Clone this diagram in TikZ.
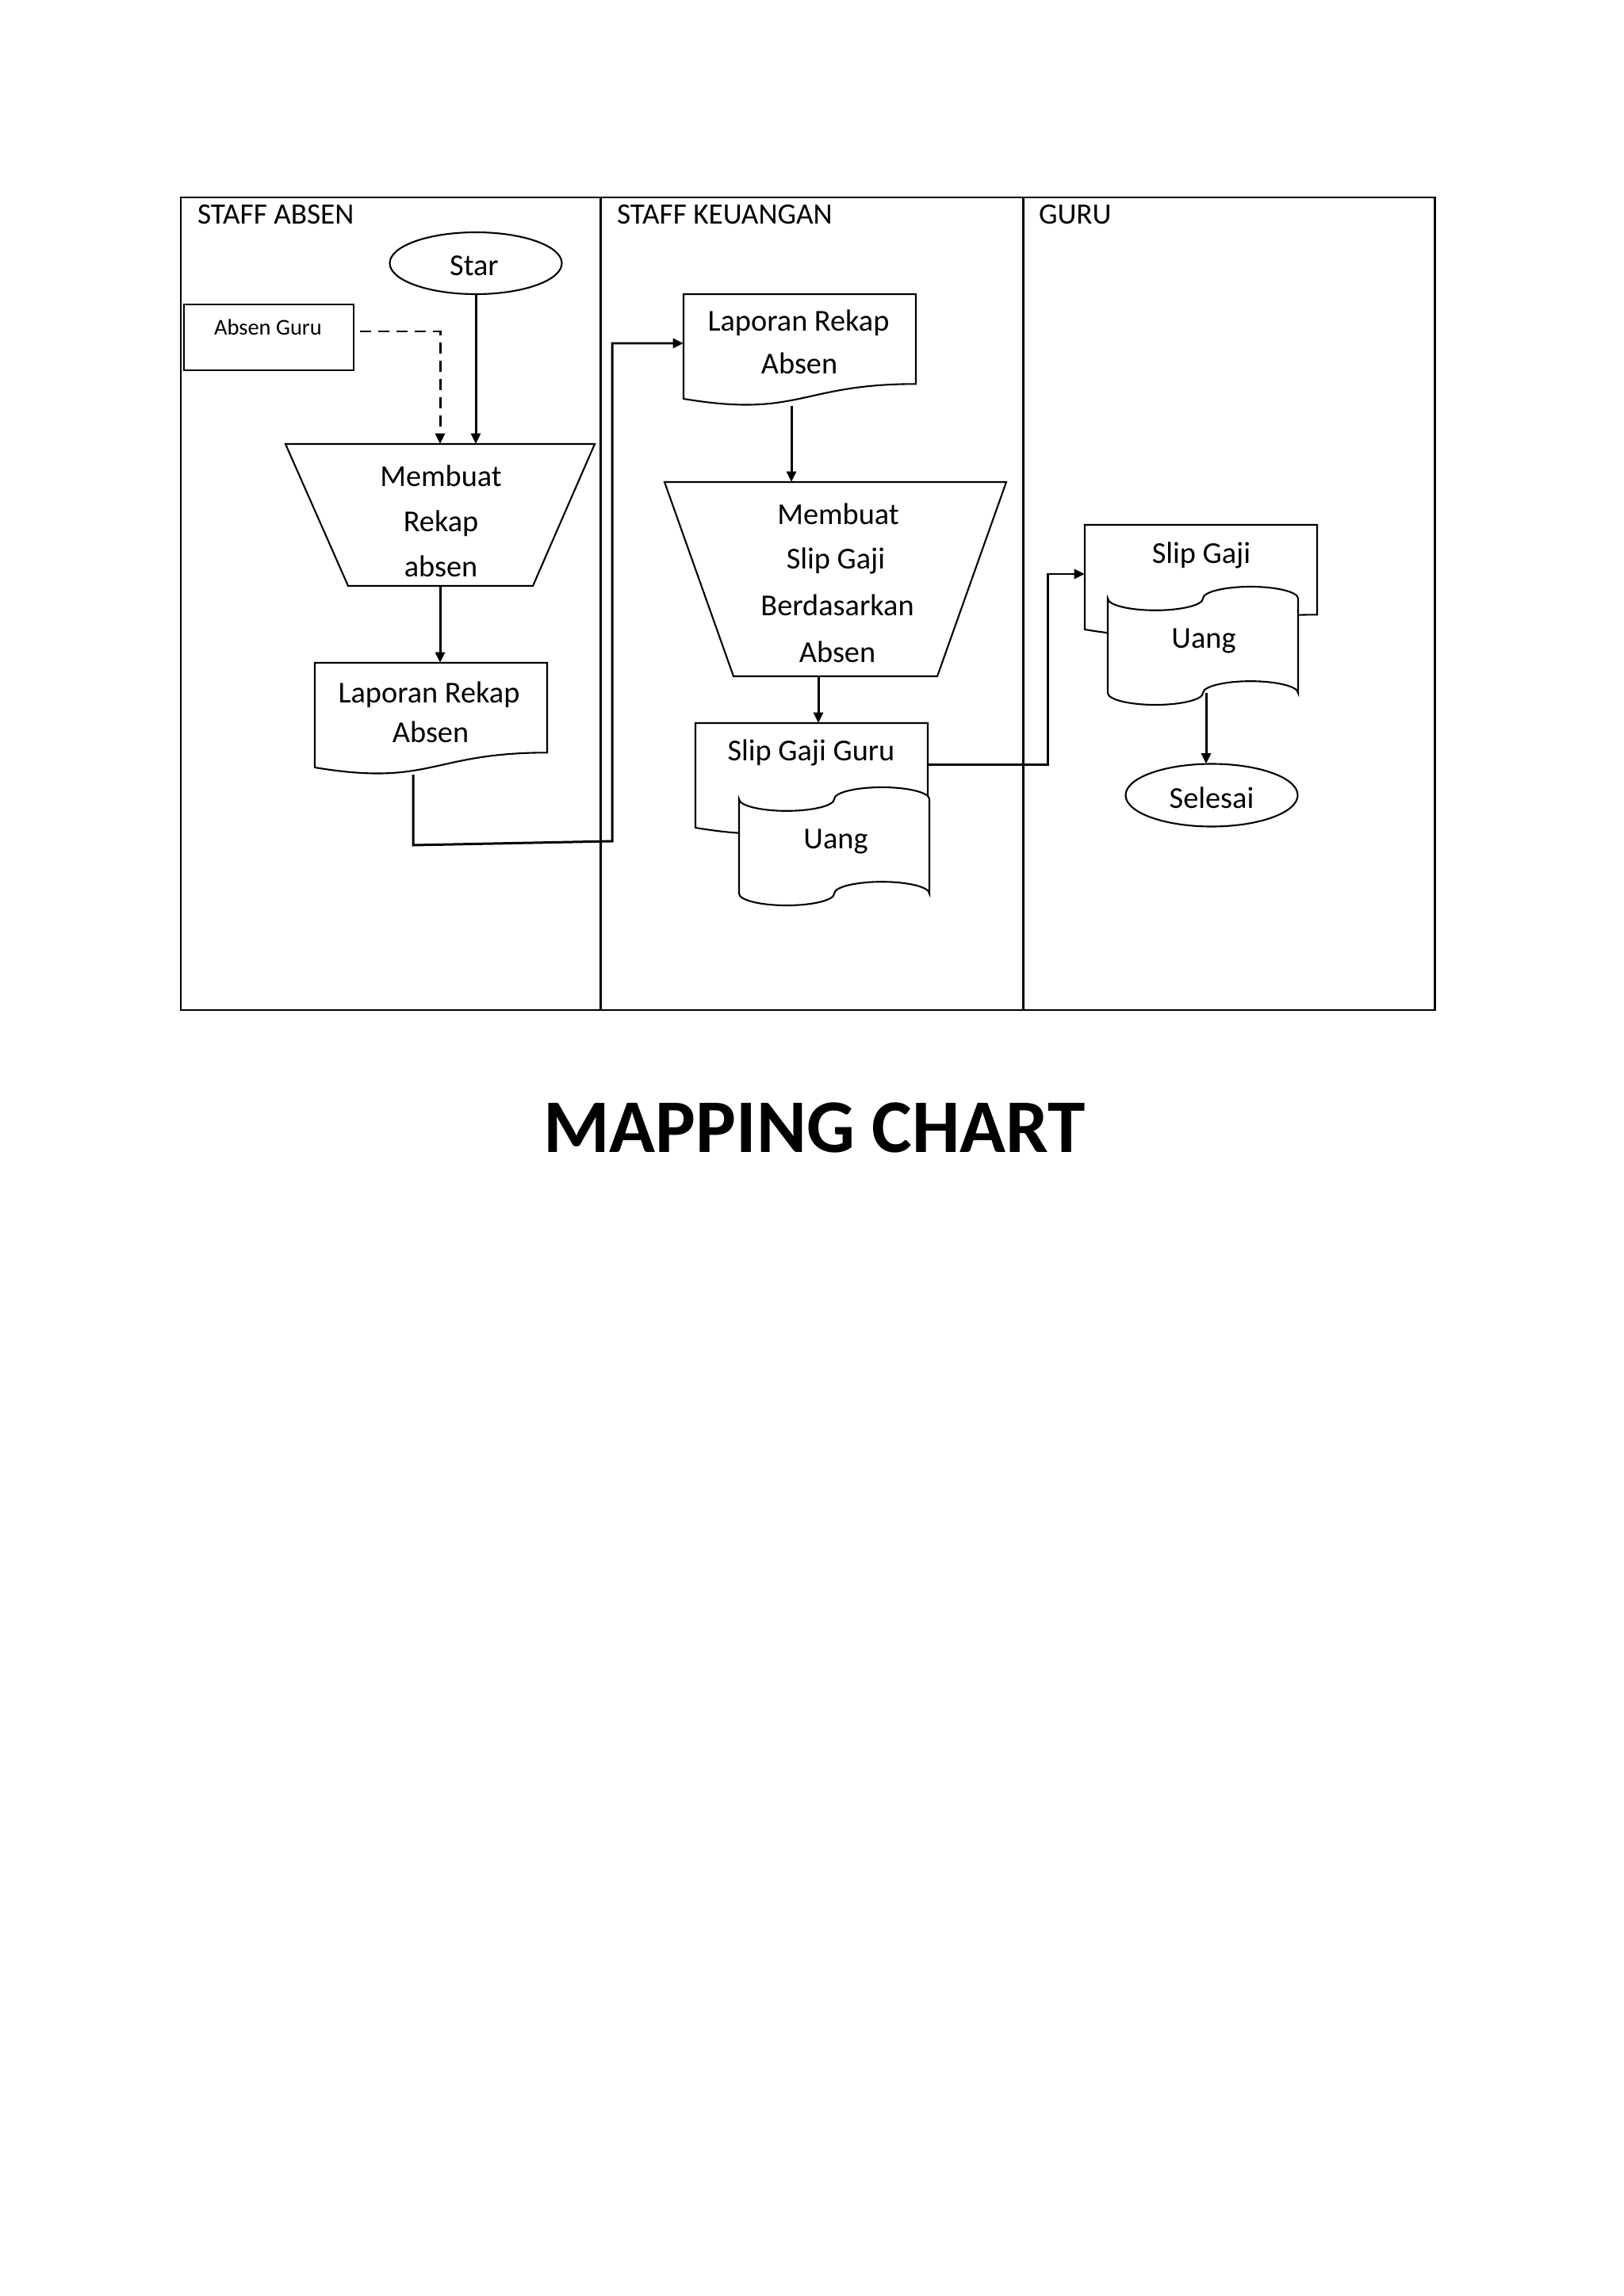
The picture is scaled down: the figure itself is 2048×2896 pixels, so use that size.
\documentclass[tikz,border=0pt]{standalone}
\usepackage{fontspec}
\setmainfont{Carlito}
\usetikzlibrary{arrows.meta,shapes.geometric}
\tikzset{
  docshape/.pic={\draw[shp] (0,0) -- (293,0) -- (293,113.3) .. controls (146.5,113.3) and (146.5,156.5) .. (0,132) -- cycle;},
  tapeshape/.pic={\draw[shp] (0,14.9) .. controls (0,23.1) and (26.9,29.8) .. (60,29.8)
     .. controls (93.1,29.8) and (120,23.1) .. (120,14.9)
     .. controls (120,6.7) and (146.9,0) .. (180,0)
     .. controls (213.1,0) and (240,6.7) .. (240,14.9)
     -- (240,134.1)
     .. controls (240,125.9) and (213.1,119.2) .. (180,119.2)
     .. controls (146.9,119.2) and (120,125.9) .. (120,134.1)
     .. controls (120,142.3) and (93.1,149) .. (60,149)
     .. controls (26.9,149) and (0,142.3) .. (0,134.1)
     -- cycle;}
}
\begin{document}
\begin{tikzpicture}[x=0.1mm, y=-0.1mm,
  every node/.style={inner sep=0pt, outer sep=0pt},
  lane/.style={draw, line width=0.85pt, minimum height=102.5mm, anchor=north west},
  shp/.style={draw, line width=0.6pt, fill=white},
  conn/.style={line width=0.85pt},
  arr/.style={conn, -{Triangle[length=3.8pt,width=3.4pt]}},
  dasharr/.style={arr, dash pattern=on 1.4mm off 0.9mm},
  txt/.style={anchor=base, font=\fontsize{10.9}{13}\selectfont},
  ttl/.style={anchor=base west, font=\fontsize{10.6}{13}\selectfont},
  frm/.style={anchor=north west}
]
\useasboundingbox (0,0) rectangle (2048,2896);

% lanes
\node[lane, minimum width=52.95mm] (laneA) at (228,249) {};
\node[lane, minimum width=53.25mm] (laneB) at (757.5,249) {};
\node[lane, minimum width=51.9mm] (laneC) at (1290.5,249) {};
\node[ttl] (tA) at (249,283) {STAFF ABSEN};
\node[ttl] (tB) at (778,283) {STAFF KEUANGAN};
\node[ttl] (tC) at (1310,283) {GURU};

% shapes lane A
\node[shp, ellipse, minimum width=21.7mm, minimum height=7.8mm] (star) at (600,332) {};
\node[shp, frm, minimum width=21.4mm, minimum height=8.3mm] (absen) at (232,384) {};
\node[frm, minimum width=39mm, minimum height=17.9mm] (trapA) at (360,560) {};
\draw[shp] (trapA.north west) -- (trapA.north east) -- ([xshift=-7.8mm]trapA.south east) -- ([xshift=7.9mm]trapA.south west) -- cycle;
\node[frm, minimum width=29.3mm, minimum height=14.1mm] (docA) at (397,836) {};
\pic at (docA.north west) {docshape};

% shapes lane B
\node[frm, minimum width=29.3mm, minimum height=14.1mm] (docB) at (862,371) {};
\pic at (docB.north west) {docshape};
\node[frm, minimum width=43.1mm, minimum height=24.5mm] (trapB) at (838,608) {};
\draw[shp] (trapB.north west) -- (trapB.north east) -- ([xshift=-8.7mm]trapB.south east) -- ([xshift=8.7mm]trapB.south west) -- cycle;
\node[frm, minimum width=29.3mm, minimum height=14.1mm] (docC) at (877,912) {};
\pic at (docC.north west) {docshape};
\node[frm, minimum width=24mm, minimum height=14.9mm] (tapeA) at (932,993) {};
\pic at (tapeA.north west) {tapeshape};

% shapes lane C
\node[frm, minimum width=29.3mm, minimum height=14.1mm] (docD) at (1368,662) {};
\pic at (docD.north west) {docshape};
\node[frm, minimum width=24mm, minimum height=14.9mm] (tapeB) at (1397,740) {};
\pic at (tapeB.north west) {tapeshape};
\node[shp, ellipse, minimum width=21.7mm, minimum height=7.9mm] (selesai) at (1528,1003) {};

% connectors
\draw[dasharr, shorten <=0.8mm] ([yshift=0.75mm]absen.east) -| (trapA.north);
\draw[arr] (star.south) -- (star.south |- trapA.north);
\draw[arr] (trapA.south) -- (trapA.south |- docA.north);
\coordinate (j1) at (772,1061);
\draw[arr] ([xshift=-2.25mm]docA.south) -- ++(0,89) -- (j1) |- ([yshift=0.85mm]docB.west);
\coordinate (b2) at ([xshift=-1.05mm]docB.south);
\draw[arr] (b2) -- (b2 |- trapB.north);
\coordinate (b3) at ([xshift=-2.15mm]trapB.south);
\draw[arr] (b3) -- (b3 |- docC.north);
\coordinate (b4) at ([yshift=1.85mm]docC.east);
\draw[arr] (b4) -- ++(151,0) |- ([yshift=0.85mm]docD.west);
\coordinate (b5) at ([xshift=0.4mm,yshift=1.5mm]tapeB.south);
\draw[arr] (b5) -- (b5 |- selesai.north);

% texts
\node[txt] (lStar) at (598,348) {Star};
\node[anchor=base, font=\fontsize{8.1}{10}\selectfont] (lAbsen) at (338,423) {Absen Guru};
\node[txt] (lA1) at (556,613) {Membuat};
\node[txt] (lA2) at (556,670) {Rekap};
\node[txt] (lA3) at (556,727) {absen};
\node[txt] (lD1) at (541,886) {Laporan Rekap};
\node[txt] (lD2) at (543,936) {Absen};
\node[txt] (lE1) at (1007,417) {Laporan Rekap};
\node[txt] (lE2) at (1008,472) {Absen};
\node[txt] (lB1) at (1057,661) {Membuat};
\node[txt] (lB2) at (1054,717) {Slip Gaji};
\node[txt] (lB3) at (1056,776) {Berdasarkan};
\node[txt] (lB4) at (1056,835) {Absen};
\node[txt] (lC1) at (1023,959) {Slip Gaji Guru};
\node[txt] (lU1) at (1054,1070) {Uang};
\node[txt] (lS1) at (1515,710) {Slip Gaji};
\node[txt] (lU2) at (1518,817) {Uang};
\node[txt] (lSel) at (1528,1019) {Selesai};

\node[anchor=base, font=\fontsize{27.2}{30}\selectfont\bfseries] (title) at (1027,1453) {MAPPING CHART};
\end{tikzpicture}
\end{document}
